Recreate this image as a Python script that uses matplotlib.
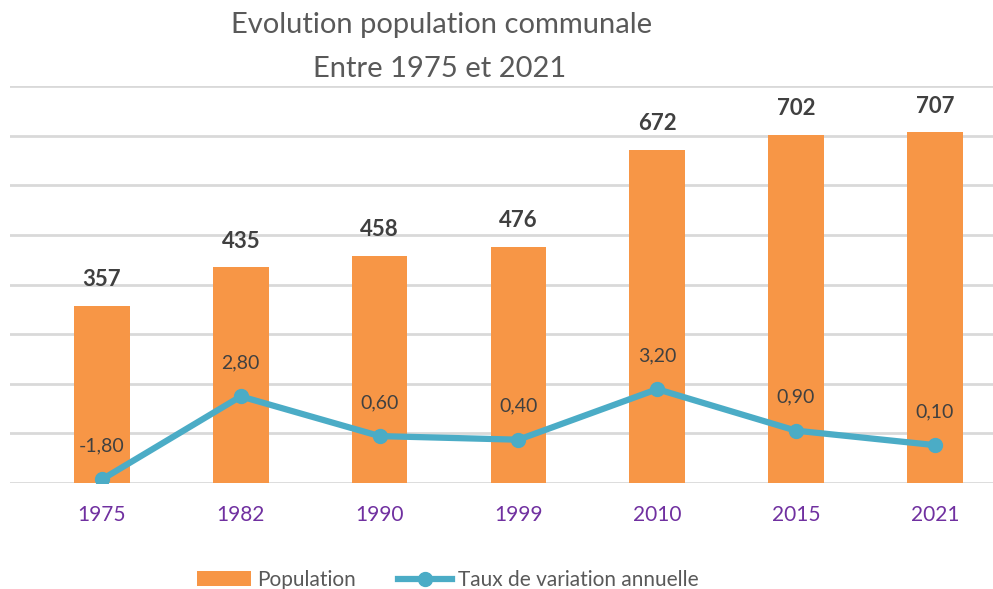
import matplotlib
matplotlib.use("Agg")
import matplotlib.pyplot as plt
from matplotlib.patches import Patch
from matplotlib.lines import Line2D
import numpy as np

plt.rcParams['font.family'] = ['Lato', 'DejaVu Sans']

years = ["1975", "1982", "1990", "1999", "2010", "2015", "2021"]
population = [357, 435, 458, 476, 672, 702, 707]
taux = [-1.80, 2.80, 0.60, 0.40, 3.20, 0.90, 0.10]

bar_color = "#F79646"
line_color = "#4BACC6"
grid_color = "#D9D9D9"
text_dark = "#404040"
text_gray = "#595959"
tick_color = "#7030A0"

W, H = 993, 589
fig = plt.figure(figsize=(W / 100, H / 100), dpi=100)

x = np.arange(len(years))
left_px, right_px, top_px, bot_px = 10, 993, 86, 483
ax = fig.add_axes([left_px / W, 1 - bot_px / H, (right_px - left_px) / W, (bot_px - top_px) / H])

ax.set_ylim(0, 800)
ax.set_yticks(np.arange(0, 801, 100))
ax.yaxis.grid(True, color=grid_color, linewidth=2.0)
ax.set_axisbelow(True)
for s in ax.spines.values():
    s.set_visible(False)

# x limits so category centres sit at the same places as in the reference
x0, dx = 102, 138.8
ax.set_xlim((left_px - x0) / dx, (right_px - x0) / dx)

bars = ax.bar(x, population, width=0.40, color=bar_color, zorder=2)
for xi, v in zip(x, population):
    ax.annotate(f"{v}", (xi, v), xytext=(0, 14), textcoords="offset points",
                ha="center", va="baseline", fontsize=16, fontweight="bold", color=text_dark)

ax.set_xticks(x)
ax.set_xticklabels(years, fontsize=15, color=tick_color)

ax2 = ax.twinx()
ax2.set_ylim(-2, 20)
ax2.axis('off')
ax2.plot(x, taux, color=line_color, linewidth=4.5, marker='o', markersize=10,
         solid_capstyle='round', zorder=3)
for xi, v in zip(x, taux):
    ax2.annotate(f"{v:.2f}".replace('.', ','), (xi, v), xytext=(0, 24), textcoords="offset points",
                 ha="center", va="center", fontsize=14, color=text_dark)

# after twinx (which re-enables left ticks)
ax.tick_params(axis='y', left=False, right=False, labelleft=False, labelright=False)
ax.tick_params(axis='x', bottom=False, pad=12.5)

fig.text(442 / W, 1 - 25 / H, "Evolution population communale", ha="center", va="center",
         fontsize=21, color=text_gray)
fig.text(440 / W, 1 - 69 / H, "Entre 1975 et 2021", ha="center", va="center",
         fontsize=21, color=text_gray)

handles = [Patch(facecolor=bar_color, edgecolor='none'),
           Line2D([0], [0], color=line_color, linewidth=4.5, marker='o', markersize=10)]
leg = fig.legend(handles, ["Population", "Taux de variation annuelle"], loc="center",
                 bbox_to_anchor=(448 / W, 1 - 580 / H), ncol=2, frameon=False,
                 fontsize=15, handlelength=2.6, handleheight=0.7, columnspacing=2.0,
                 handletextpad=0.3)
for t in leg.get_texts():
    t.set_color(text_gray)

fig.savefig("out.png", dpi=100)
